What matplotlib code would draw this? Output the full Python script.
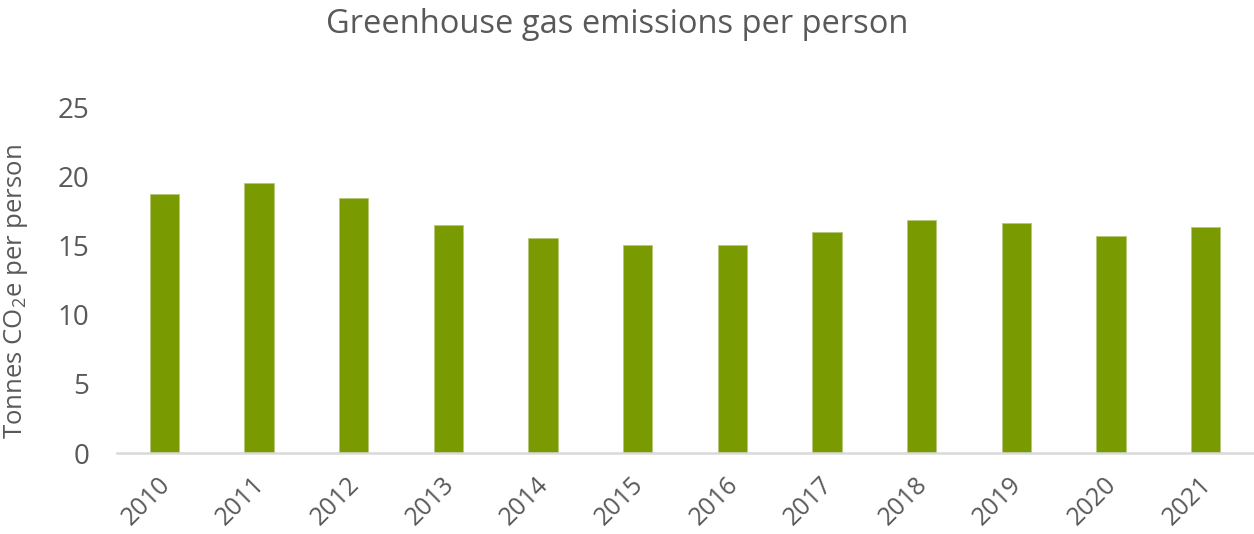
import matplotlib
matplotlib.use("Agg")
import matplotlib.pyplot as plt
from matplotlib.transforms import ScaledTranslation

years = ["2010", "2011", "2012", "2013", "2014", "2015", "2016", "2017", "2018", "2019", "2020", "2021"]
emissions = [18.8, 19.6, 18.45, 16.5, 15.55, 15.05, 15.05, 16.0, 16.85, 16.7, 15.7, 16.35]
yticks = [0, 5, 10, 15, 20, 25]

text_color = "#595959"
bar_color = "#7a9a01"

plt.rcParams['font.family'] = ['Open Sans', 'DejaVu Sans']
plt.rcParams['mathtext.fontset'] = 'custom'
plt.rcParams['mathtext.rm'] = 'Open Sans'
plt.rcParams['mathtext.it'] = 'Open Sans'
plt.rcParams['mathtext.bf'] = 'Open Sans'

fig = plt.figure(figsize=(12.54, 5.34), dpi=100)
ax = fig.add_axes([117/1254, 1 - 453/534, (1253 - 117)/1254, (453 - 108)/534])

x = list(range(len(years)))
ax.bar(x, emissions, width=0.31, color=bar_color, edgecolor="#b5c97a", linewidth=0.6, zorder=2)

ax.set_xlim(-0.5, len(years) - 0.5)
ax.set_ylim(0, 25)
ax.set_yticks(yticks)
ax.set_yticklabels([str(v) for v in yticks])
ax.set_xticks(x)
ax.set_xticklabels(years, rotation=45, ha='right', va='top', rotation_mode='anchor')

for s in ['top', 'right', 'left']:
    ax.spines[s].set_visible(False)
ax.spines['bottom'].set_color('#d9d9d9')
ax.spines['bottom'].set_linewidth(1.8)

ax.tick_params(axis='y', length=0, pad=20, labelsize=20, labelcolor=text_color)
ax.tick_params(axis='x', length=0, pad=14, labelsize=18, labelcolor=text_color)

offset = ScaledTranslation(-7/100, 0, fig.dpi_scale_trans)
for lab in ax.get_xticklabels():
    lab.set_transform(lab.get_transform() + offset)

fig.text(16/1254, 1 - 291.5/534, "Tonnes CO$_2$e per person", rotation=90,
         ha='center', va='center', fontsize=18.5, color=text_color)

fig.text(0.492, 1 - 33/534, "Greenhouse gas emissions per person", ha='center', va='baseline',
         fontsize=23.5, color=text_color)

fig.savefig("out.png", dpi=100, facecolor='white')
